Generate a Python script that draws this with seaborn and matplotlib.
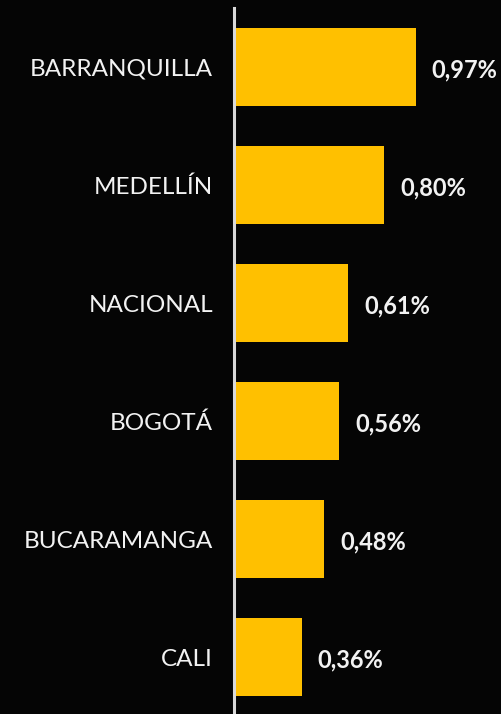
import matplotlib
matplotlib.use("Agg")
import matplotlib.pyplot as plt
import seaborn as sns
import pandas as pd

categories = ["BARRANQUILLA", "MEDELLÍN", "NACIONAL", "BOGOTÁ", "BUCARAMANGA", "CALI"]
values = [0.97, 0.80, 0.61, 0.56, 0.48, 0.36]
value_labels = ["0,97%", "0,80%", "0,61%", "0,56%", "0,48%", "0,36%"]

df = pd.DataFrame({"cat": categories, "val": values})

sns.set_theme(style="white")
plt.rcParams["font.family"] = ["Lato", "DejaVu Sans"]

bg = "#050505"
fig = plt.figure(figsize=(5.02, 7.14), dpi=100, facecolor=bg)
ax = fig.add_axes([234 / 502, 0, 1 - 234 / 502, 706 / 714])
ax.set_facecolor(bg)

sns.barplot(data=df, y="cat", x="val", orient="h", color="#FFC000",
            saturation=1, width=0.66, linewidth=0, edgecolor="none", ax=ax)

ax.set_xlim(0, (502 - 234) / 187.5)
ax.set_ylim(5.483, -0.5)
for s in ["top", "right", "bottom"]:
    ax.spines[s].set_visible(False)
ax.spines["left"].set_color("#d9d9d9")
ax.spines["left"].set_linewidth(2.2)
ax.set_xticks([])
ax.set_xlabel("")
ax.set_ylabel("")
ax.tick_params(axis="y", length=0, pad=15, labelsize=17.5, labelcolor="#f2f2f2")

for i, (v, lab) in enumerate(zip(values, value_labels)):
    ax.annotate(lab, (v, i), xytext=(16, -3), textcoords="offset pixels",
                va="center", ha="left", color="#f2f2f2", fontsize=17, fontweight="bold")

fig.savefig("out.png", dpi=100, facecolor=bg)
